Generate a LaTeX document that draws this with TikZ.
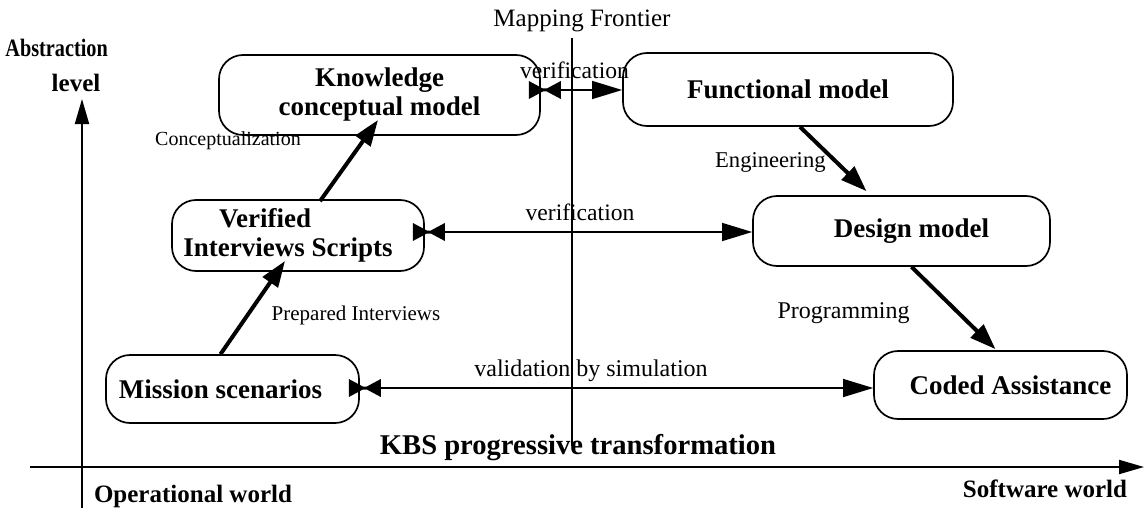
\documentclass[tikz,border=0pt]{standalone}
\usepackage{fontspec}
\setmainfont{Liberation Serif}
\usetikzlibrary{arrows.meta,calc}
\newcommand{\bfsz}{\fontsize{13.5}{14.5}\selectfont\bfseries}
\newcommand{\lbsz}{\fontsize{11.8}{13}\selectfont}
\tikzset{
  box/.style={draw, line width=0.85pt, rounded corners=12pt, inner sep=0pt, align=center, font=\bfsz},
  thickarr/.style={line width=2pt, -{Triangle[length=13pt,width=9pt]}},
  thinarr/.style={line width=0.7pt, -{Triangle[length=15pt,width=9pt]}},
  axisarr/.style={line width=1pt, -{Triangle[length=12.5pt,width=7pt]}},
  lbl/.style={font=\lbsz, inner sep=0pt, anchor=base},
  blbl/.style={font=\bfsz, inner sep=0pt, anchor=base},
  btie/.pic={\fill (-16,-9) -- (-2,-1.5) -- (2,-1.5) -- (16,-9) -- (16,9) -- (2,1.5) -- (-2,1.5) -- (-16,9) -- cycle;}
}
\begin{document}
\begin{tikzpicture}[x=0.5pt,y=-0.5pt]
\useasboundingbox (0,0) rectangle (1144,508);
% axes
\coordinate (vbot) at (82,508);
\coordinate (vtop) at (82,99);
\coordinate (hl) at (30,467);
\coordinate (hr) at (1144,467);
\draw[axisarr] (vbot) -- (vtop);
\draw[axisarr] (hl) -- (hr);
% frontier
\coordinate (ftop) at (572,38);
\coordinate (fbot) at (572,446);
\draw[line width=0.8pt] (ftop) -- (fbot);
% boxes
\node[box, minimum width=160.5pt, minimum height=40pt] (kcm) at (379.5,95) {Knowledge\\conceptual model};
\node[box, minimum width=165pt, minimum height=36.5pt] (fm) at (788,89.5) {Functional model};
\node[box, minimum width=126pt, minimum height=35.5pt] (ver) at (298,235.5) {Verified\hspace*{33pt}\\Interviews Scripts\hspace*{10pt}};
\node[box, minimum width=148.5pt, minimum height=35pt] (dm) at (901.5,231) {\hspace*{10pt}Design model};
\node[box, minimum width=126.5pt, minimum height=34pt] (mis) at (232.5,389) {Mission scenarios\hspace*{12pt}};
\node[box, minimum width=126.5pt, minimum height=34pt] (ca) at (1000.5,385) {\hspace*{10pt}Coded Assistance};
% thick arrows
\draw[thickarr] ($(mis.north)+(-12,0)$) -- ($(ver.center)+(-13,25.5)$);
\draw[thickarr] ($(ver.north)+(22,2)$) -- ($(kcm.center)+(-1.5,25)$);
\draw[thickarr] ($(fm.south)+(12,0)$) -- ($(dm.north)+(-35,-4)$);
\draw[thickarr] ($(dm.south)+(10,0)$) -- ($(ca.north)+(-5,-1)$);
% thin arrows
\draw[thinarr] ($(kcm.east)+(0,-5)$) -- ($(fm.west)+(0,0.5)$);
\pic at ($(kcm.east)+(4,-5)$) {btie};
\draw[thinarr] ($(ver.east)+(0,-3.5)$) -- ($(dm.west)+(0,1)$);
\pic at ($(ver.east)+(4,-3.5)$) {btie};
\draw[thinarr] ($(mis.east)+(0,-1)$) -- ($(ca.west)+(0,3)$);
\pic at ($(mis.east)+(5,-1)$) {btie};
% labels
\node[lbl, font=\fontsize{12.5}{14}\selectfont] (mft) at (582,27) {Mapping Frontier};
\node[lbl] (v1) at (574.5,79) {verification};
\node[lbl] (v2) at (580,220) {verification};
\node[lbl, font=\fontsize{12}{14}\selectfont] (v3) at (591,376) {validation by simulation};
\node[lbl, font=\fontsize{10}{12}\selectfont] (conc) at (228,145) {Conceptualization};
\node[lbl, font=\fontsize{10.5}{12}\selectfont] (prep) at (356,320) {Prepared Interviews};
\node[lbl, anchor=base east, font=\fontsize{11.3}{12}\selectfont] (eng) at (826,167) {Engineering};
\node[lbl, anchor=base east, font=\fontsize{12}{12}\selectfont] (prog) at (910,318) {Programming};
\node[blbl, font=\fontsize{14.3}{15}\selectfont\bfseries] (kbs) at (578,454) {KBS progressive transformation};
\node[blbl, font=\fontsize{12.5}{14}\selectfont\bfseries] (opw) at (193,502) {Operational world};
\node[blbl, font=\fontsize{12.5}{14}\selectfont\bfseries] (sww) at (1045,497) {Software world};
\node[blbl, anchor=base west, font=\fontsize{12.5}{14}\selectfont\bfseries] (abs1) at (5,57) {\scalebox{0.81}[1]{Abstraction}};
\node[blbl, font=\fontsize{12.5}{14}\selectfont\bfseries] (abs2) at (76,91) {level};
\end{tikzpicture}
\end{document}
